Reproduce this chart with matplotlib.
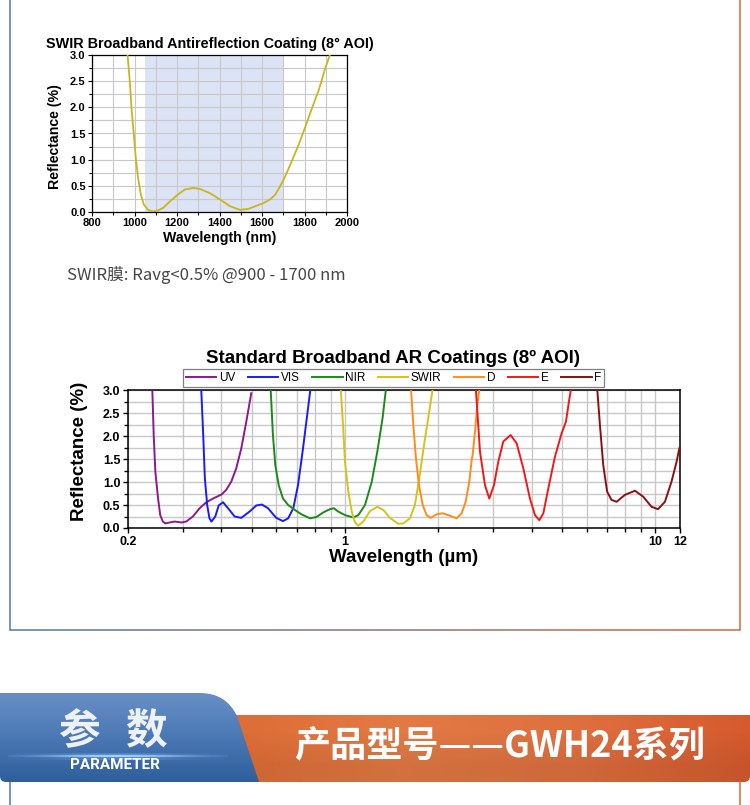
import numpy as np
import matplotlib
matplotlib.use('Agg')
import matplotlib.pyplot as plt
from matplotlib.path import Path
from matplotlib.patches import PathPatch
from matplotlib.collections import LineCollection
from matplotlib.colors import to_rgb
from matplotlib.ticker import MultipleLocator, FixedLocator, FixedFormatter, NullFormatter, FormatStrFormatter

# --- top chart: SWIR coating, reflectance (%) vs wavelength (nm)
swir_nm = [967, 978, 986, 997, 1006, 1017, 1030, 1044, 1064, 1088, 1111, 1135, 1166, 1203,
           1237, 1276, 1308, 1355, 1402, 1450, 1497, 1536, 1575, 1607, 1638, 1662, 1685,
           1709, 1740, 1772, 1804, 1835, 1867, 1898, 1921]
swir_r = [3.02, 2.49, 1.98, 1.47, 1.03, 0.65, 0.33, 0.14, 0.04, 0.01, 0.03, 0.08, 0.20, 0.33,
          0.43, 0.46, 0.44, 0.36, 0.24, 0.11, 0.04, 0.06, 0.12, 0.17, 0.24, 0.33, 0.49,
          0.68, 0.97, 1.28, 1.63, 1.98, 2.33, 2.75, 3.02]
band_nm = (1050, 1700)

# --- bottom chart: standard broadband AR coatings, wavelength in um
uv_um = [0.2395, 0.242, 0.245, 0.250, 0.254, 0.259, 0.2637, 0.2724, 0.2828, 0.297, 0.308,
         0.3236, 0.3403, 0.3576, 0.3757, 0.4006, 0.4147, 0.4304, 0.4465, 0.4634, 0.4809, 0.499]
uv_r = [3.02, 2.02, 1.22, 0.64, 0.28, 0.14, 0.10, 0.12, 0.14, 0.12, 0.14,
        0.25, 0.43, 0.56, 0.64, 0.73, 0.83, 1.01, 1.30, 1.73, 2.31, 2.93]

vis_um = [0.3443, 0.3494, 0.3537, 0.3598, 0.366, 0.3714, 0.3822, 0.3919, 0.4046, 0.42, 0.4411,
          0.4634, 0.4932, 0.5182, 0.5401, 0.5649, 0.6006, 0.6314, 0.656, 0.6817, 0.7058,
          0.7325, 0.7601, 0.774]
vis_r = [3.02, 2.02, 1.08, 0.50, 0.21, 0.14, 0.25, 0.49, 0.56, 0.43, 0.25,
         0.22, 0.36, 0.49, 0.51, 0.43, 0.22, 0.15, 0.21, 0.43, 0.93,
         1.73, 2.60, 3.02]

nir_um = [0.5762, 0.586, 0.5964, 0.6116, 0.6314, 0.656, 0.6902, 0.7232, 0.7715, 0.810, 0.8518,
          0.8949, 0.9218, 0.9495, 1.0, 1.063, 1.104, 1.160, 1.219, 1.271, 1.321, 1.355]
nir_r = [3.02, 2.02, 1.37, 0.93, 0.64, 0.50, 0.39, 0.30, 0.21, 0.24, 0.34,
         0.41, 0.43, 0.36, 0.28, 0.23, 0.28, 0.50, 1.00, 1.66, 2.38, 3.02]

swir2_um = [0.969, 0.9857, 1.0, 1.025, 1.051, 1.077, 1.104, 1.146, 1.204, 1.271, 1.330, 1.396,
            1.485, 1.541, 1.619, 1.680, 1.735, 1.797, 1.868, 1.916]
swir2_r = [3.02, 2.24, 1.44, 0.79, 0.36, 0.12, 0.05, 0.14, 0.37, 0.46, 0.39, 0.22,
           0.09, 0.10, 0.21, 0.50, 1.08, 1.80, 2.53, 3.02]

d_um = [1.632, 1.66, 1.693, 1.731, 1.780, 1.832, 1.888, 1.974, 2.063, 2.152, 2.29, 2.375,
        2.448, 2.514, 2.559, 2.578, 2.623, 2.669, 2.709]
d_r = [3.02, 2.24, 1.51, 0.93, 0.50, 0.28, 0.22, 0.30, 0.32, 0.28, 0.21, 0.32,
       0.57, 1.00, 1.48, 1.59, 2.09, 2.67, 3.02]

e_um = [2.64, 2.722, 2.825, 2.916, 3.019, 3.118, 3.235, 3.417, 3.573, 3.753, 3.943, 4.093,
        4.227, 4.355, 4.518, 4.747, 4.987, 5.15, 5.266, 5.345]
e_r = [3.02, 1.66, 0.93, 0.64, 0.93, 1.44, 1.88, 2.02, 1.84, 1.30, 0.64, 0.28,
       0.17, 0.32, 0.86, 1.55, 2.06, 2.31, 2.75, 3.02]

f_um = [6.494, 6.626, 6.79, 6.99, 7.22, 7.50, 7.975, 8.59, 9.136, 9.72, 10.2, 10.73,
        11.27, 11.70, 11.95, 12.0]
f_r = [3.02, 2.24, 1.37, 0.79, 0.61, 0.57, 0.72, 0.81, 0.68, 0.46, 0.41, 0.57,
       1.01, 1.44, 1.74, 1.77]

series_names = ['UV', 'VIS', 'NIR', 'SWIR', 'D', 'E', 'F']
series_x = [uv_um, vis_um, nir_um, swir2_um, d_um, e_um, f_um]
series_y = [uv_r, vis_r, nir_r, swir2_r, d_r, e_r, f_r]
series_colors = ['#8b1a8b', '#1a1aff', '#1a8a1a', '#d6c21c', '#ff8c1a', '#f01818', '#8b1010']

W, H = 750, 805
BLUE = '#4f78b4'
ORANGE = '#d0693f'

plt.rcParams['font.family'] = ['Liberation Sans', 'Noto Sans CJK SC', 'DejaVu Sans']
plt.rcParams['font.weight'] = 'bold'
plt.rcParams['axes.titleweight'] = 'bold'
plt.rcParams['axes.labelweight'] = 'bold'
CJK = ['Noto Sans CJK SC', 'DejaVu Sans']

fig = plt.figure(figsize=(W / 100, H / 100), dpi=100)


def place(left, top, right, bottom):
    # axes from pixel box (origin top-left)
    return fig.add_axes([left / W, 1 - bottom / H, (right - left) / W, (bottom - top) / H])


def gradient(stops, n):
    pos = np.linspace(0, 1, len(stops))
    t = np.linspace(0, 1, n)
    rgb = np.array([to_rgb(c) for c in stops])
    return np.stack([np.interp(t, pos, rgb[:, k]) for k in range(3)], axis=-1)


# ---------- page decoration ----------
bg = fig.add_axes([0, 0, 1, 1])
bg.axis('off')

# outer frame: blue on the left, orange on the right
bg.plot([10, 10], [-5, 630], color=BLUE, lw=1.1)
bg.plot([740, 740], [-5, 630], color=ORANGE, lw=1.1)
xs = np.linspace(10, 740, 150)
segs = [[(xs[i], 630), (xs[i + 1], 630)] for i in range(len(xs) - 1)]
bg.add_collection(LineCollection(segs, colors=gradient([BLUE, ORANGE], len(segs)), lw=1.1))
bg.plot([10, 10], [782, 810], color=BLUE, lw=1.1)
bg.plot([740, 740], [782, 810], color=ORANGE, lw=1.1)

# orange bar
orange_path = Path([(226, 715), (750, 715), (750, 776), (750, 782), (744, 782), (226, 782), (226, 715)],
                   [Path.MOVETO, Path.LINETO, Path.LINETO, Path.CURVE3, Path.CURVE3, Path.LINETO, Path.CLOSEPOLY])
orange_patch = PathPatch(orange_path, facecolor='none', edgecolor='none')
bg.add_patch(orange_patch)
row = gradient(['#de6c36', '#e27a44', '#df7040', '#d65a2e'], 300)
org = np.stack([row, row * 0.93], axis=0)
im = bg.imshow(org, extent=(226, 750, 782, 715), aspect='auto', interpolation='bilinear', zorder=1)
im.set_clip_path(orange_patch)

# blue tab
tab_path = Path([(0, 693), (200, 693), (226, 693), (237, 716), (259, 782), (6, 782), (0, 782), (0, 776), (0, 693)],
                [Path.MOVETO, Path.LINETO, Path.CURVE3, Path.CURVE3, Path.LINETO, Path.LINETO,
                 Path.CURVE3, Path.CURVE3, Path.CLOSEPOLY])
tab_patch = PathPatch(tab_path, facecolor='none', edgecolor='none')
bg.add_patch(tab_patch)
col = gradient(['#6890c6', '#4b78b4', '#2e5e9c'], 100)[:, None, :]
im2 = bg.imshow(col, extent=(0, 260, 782, 693), aspect='auto', interpolation='bilinear', zorder=2)
im2.set_clip_path(tab_patch)

# glow line under 参数
gx = np.linspace(8, 228, 120)
glow = [[(gx[i], 756), (gx[i + 1], 756)] for i in range(len(gx) - 1)]
alpha = np.exp(-((gx[:-1] - 115) / 70) ** 2)
gcol = np.zeros((len(glow), 4))
gcol[:, :3] = to_rgb('#9fd4ff')
gcol[:, 3] = alpha
bg.add_collection(LineCollection(glow, colors=gcol, lw=1.6, zorder=3))
gcol2 = gcol.copy()
gcol2[:, 3] = alpha * 0.25
bg.add_collection(LineCollection(glow, colors=gcol2, lw=5, zorder=3))

bg.text(80, 732, '参', family=CJK, fontsize=30, weight='bold', color='#eef2f7',
        ha='center', va='center', zorder=4)
bg.text(146, 732, '数', family=CJK, fontsize=30, weight='bold', color='#eef2f7',
        ha='center', va='center', zorder=4)
bg.text(115, 765, 'PARAMETER', family=['Roboto', 'DejaVu Sans'], fontsize=11, weight='bold',
        color='white', ha='center', va='center', zorder=4)
bg.text(500, 747, '产品型号——GWH24系列', family=CJK, fontsize=26, weight='bold', color='white',
        ha='center', va='center', zorder=4)

# caption under the SWIR chart
bg.text(67, 275, 'SWIR膜: Ravg<0.5% @900 - 1700 nm', family=CJK, fontsize=12, weight='normal',
        color='#464646', ha='left', va='center')

bg.set_xlim(0, W)
bg.set_ylim(H, 0)

# ---------- top chart ----------
ax1 = place(92, 55, 347, 212)
ax1.axvspan(*band_nm, color='#dce3f5', lw=0, zorder=0.2)
ax1.plot(swir_nm, swir_r, color='#c9b61e', lw=1.3, zorder=3, solid_joinstyle='round')
ax1.set_xlim(800, 2000)
ax1.set_ylim(0, 3)
ax1.xaxis.set_major_locator(MultipleLocator(200))
ax1.xaxis.set_minor_locator(MultipleLocator(100))
ax1.yaxis.set_major_locator(MultipleLocator(0.5))
ax1.yaxis.set_minor_locator(MultipleLocator(0.25))
ax1.yaxis.set_major_formatter(FormatStrFormatter('%.1f'))
ax1.set_axisbelow(True)
ax1.grid(which='both', color='#c8c8c8', lw=0.8)
ax1.tick_params(which='both', direction='out', width=0.8, labelsize=8, pad=1.5)
ax1.tick_params(which='major', length=3)
ax1.tick_params(which='minor', length=2)
for sp in ax1.spines.values():
    sp.set_linewidth(0.9)
ax1.set_title('SWIR Broadband Antireflection Coating (8° AOI)', fontsize=10.4, x=0.463, pad=5)
ax1.set_xlabel('Wavelength (nm)', fontsize=10.2)
ax1.xaxis.set_label_coords(0.502, -0.118)
ax1.set_ylabel('Reflectance (%)', fontsize=10.2)
ax1.yaxis.set_label_coords(-0.118, 0.478)

# ---------- bottom chart ----------
ax2 = place(128, 390, 680, 528)
for name, x, y, c in zip(series_names, series_x, series_y, series_colors):
    ax2.plot(x, y, color=c, lw=1.4, label=name, zorder=3, solid_joinstyle='round')
ax2.set_xscale('log')
ax2.set_xlim(0.2, 12)
ax2.set_ylim(0, 3)
ax2.xaxis.set_major_locator(FixedLocator([0.2, 1, 10, 12]))
ax2.xaxis.set_major_formatter(FixedFormatter(['0.2', '1', '10', '12']))
ax2.xaxis.set_minor_locator(FixedLocator([0.3, 0.4, 0.5, 0.6, 0.7, 0.8, 0.9, 2, 3, 4, 5, 6, 7, 8, 9]))
ax2.xaxis.set_minor_formatter(NullFormatter())
ax2.yaxis.set_major_locator(MultipleLocator(0.5))
ax2.yaxis.set_minor_locator(MultipleLocator(0.25))
ax2.yaxis.set_major_formatter(FormatStrFormatter('%.1f'))
ax2.set_axisbelow(True)
ax2.grid(which='both', color='#c8c8c8', lw=1.0)
ax2.tick_params(which='both', direction='out', width=1.0, labelsize=9, pad=2)
ax2.tick_params(which='major', length=3.5)
ax2.tick_params(which='minor', length=3)
for sp in ax2.spines.values():
    sp.set_linewidth(1.1)
ax2.set_title('Standard Broadband AR Coatings (8º AOI)', fontsize=13.5, x=0.48, pad=19.5)
ax2.set_xlabel('Wavelength (µm)', fontsize=13.5)
ax2.xaxis.set_label_coords(0.5, -0.15)
ax2.set_ylabel('Reflectance (%)', fontsize=13.5)
ax2.yaxis.set_label_coords(-0.072, 0.558)
leg = ax2.legend(loc='lower center', bbox_to_anchor=(0.481, 1.02), ncol=7, borderaxespad=0,
                 prop={'weight': 'normal', 'size': 8.5}, handlelength=2.6, handletextpad=0.2,
                 columnspacing=1.05, borderpad=0.25, fancybox=False, edgecolor='#808080', framealpha=1)
leg.get_frame().set_linewidth(0.9)

fig.savefig('out.png', dpi=100)
